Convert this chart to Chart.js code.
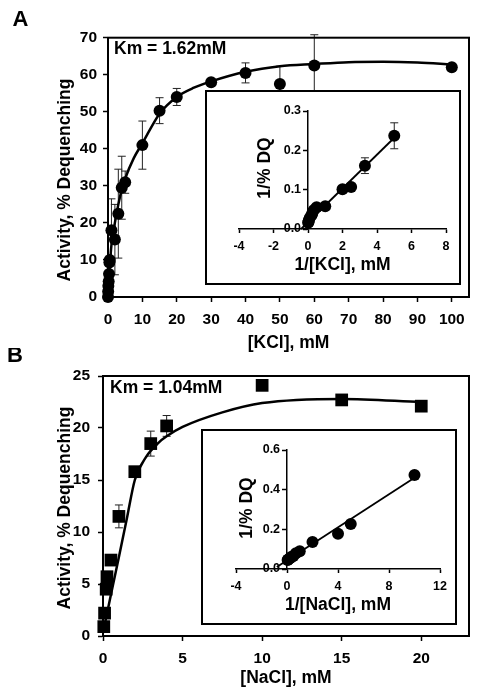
<!DOCTYPE html>
<html>
<head>
<meta charset="utf-8">
<script src="https://cdn.jsdelivr.net/npm/chart.js@4.4.1/dist/chart.umd.min.js"></script>
<style>
  body { margin: 0; background: #fff; }
  #wrap { position: relative; width: 479px; height: 697px; }
  canvas { position: absolute; }
</style>
</head>
<body>
<div id="wrap">
  <canvas id="mainA" width="479" height="360" style="left:0;top:0"></canvas>
  <canvas id="mainB" width="479" height="349" style="left:0;top:348px"></canvas>
  <canvas id="insetA" width="256" height="195" style="left:205px;top:90px"></canvas>
  <canvas id="insetB" width="256" height="196" style="left:201px;top:429px"></canvas>
</div>
<script>
// Panel A - KCl
const kclConc = [0, 0.05, 0.1, 0.2, 0.3, 0.4, 0.5, 1, 2, 3, 4, 5, 10, 15, 20, 30, 40, 50, 60, 100];
const kclActivity = [0, 1.5, 3, 4.2, 6.2, 9.3, 10, 18, 15.5, 22.5, 29.5, 31, 41, 50.3, 54, 58, 60.5, 57.5, 62.5, 62];
const kclError = [0, 0, 0, 0, 0, 0, 0, 8.5, 9.5, 12, 8.5, 3, 6.5, 3.5, 2.3, 0, 2.7, 4.8, 8.3, 0];
const kclFitX = [0, 0.5, 1, 2, 3, 4, 5, 7.5, 10, 15, 20, 25, 30, 40, 50, 60, 70, 80, 90, 100];
const kclFitY = [0, 8, 14, 20, 25, 29, 32, 37.5, 41.5, 49.5, 54, 56.5, 58.2, 60.8, 62.3, 62.9, 63.4, 63.5, 63.3, 62.8];
const kclTicksX = [0, 10, 20, 30, 40, 50, 60, 70, 80, 90, 100];
const kclTicksY = [0, 10, 20, 30, 40, 50, 60, 70];

// inset A - double reciprocal
const kclInvX = [5, 3.3, 2.5, 2, 1, 0.5, 0.33, 0.25, 0.2, 0.1, 0.05, 0.03, 0.01];
const kclInvY = [0.237, 0.161, 0.107, 0.101, 0.058, 0.055, 0.048, 0.04, 0.035, 0.028, 0.022, 0.018, 0.016];
const kclInvErr = [0.033, 0.02, 0, 0, 0, 0, 0, 0, 0, 0, 0, 0, 0];
const kclLineX = [-0.4, 5];
const kclLineY = [0, 0.232];
const kclInvTicksX = [-4, -2, 0, 2, 4, 6, 8];
const kclInvTicksY = [0, 0.1, 0.2, 0.3];

// Panel B - NaCl
const naclConc = [0.05, 0.1, 0.2, 0.25, 0.5, 1, 2, 3, 4, 10, 15, 20];
const naclActivity = [0.9, 2.2, 4.5, 5.7, 7.3, 11.5, 15.8, 18.5, 20.2, 24.1, 22.7, 22.1];
const naclError = [0, 0, 0, 0, 0, 1.1, 0, 1.2, 1.0, 0, 0, 0];
const naclFitX = [0, 0.5, 1, 1.5, 2, 2.7, 3.5, 4, 5, 7.5, 10, 15, 20];
const naclFitY = [0.3, 4.0, 7.6, 11.3, 15.0, 17.2, 18.6, 19.2, 20.1, 21.5, 22.4, 22.8, 22.5];
const naclTicksX = [0, 5, 10, 15, 20];
const naclTicksY = [0, 5, 10, 15, 20, 25];

// inset B
const naclInvX = [10, 5, 4, 2, 1, 0.7, 0.5, 0.33, 0.25, 0.1, 0.05];
const naclInvY = [0.474, 0.227, 0.178, 0.136, 0.09, 0.08, 0.065, 0.06, 0.055, 0.048, 0.045];
const naclLineX = [-0.8, 10];
const naclLineY = [0.01, 0.46];
const naclInvTicksX = [-4, 0, 4, 8, 12];
const naclInvTicksY = [0, 0.2, 0.4, 0.6];

const FAMILY = "'Liberation Sans', Arial, sans-serif";
const tickFont = { family: FAMILY, size: 15.5, weight: 'bold' };
const smallTickFont = { family: FAMILY, size: 12.5, weight: 'bold' };
const titleFont = { family: FAMILY, size: 17.5, weight: 'bold' };

const pts = (xs, ys) => xs.map((x, i) => ({ x: x, y: ys[i] }));
const fixTicks = list => scale => { scale.ticks = list.map(v => ({ value: v })); };

// error bars drawn under the markers
const errorBars = {
  id: 'errorBars',
  beforeDatasetsDraw(chart) {
    const ctx = chart.ctx;
    chart.data.datasets.forEach((ds, i) => {
      if (!ds.errors) return;
      const meta = chart.getDatasetMeta(i);
      const yScale = chart.scales[meta.yAxisID];
      ctx.save();
      ctx.strokeStyle = '#222';
      ctx.lineWidth = 1;
      ds.data.forEach((p, j) => {
        const e = ds.errors[j];
        if (!e) return;
        const x = meta.data[j].x;
        const top = yScale.getPixelForValue(p.y + e);
        const bot = yScale.getPixelForValue(p.y - e);
        ctx.beginPath();
        ctx.moveTo(x, top); ctx.lineTo(x, bot);
        ctx.moveTo(x - 4, top); ctx.lineTo(x + 4, top);
        ctx.moveTo(x - 4, bot); ctx.lineTo(x + 4, bot);
        ctx.stroke();
      });
      ctx.restore();
    });
  }
};

// box around the plot area
const frame = {
  id: 'frame',
  afterDraw(chart) {
    const { ctx, chartArea: a } = chart;
    ctx.save();
    ctx.strokeStyle = '#000';
    ctx.lineWidth = 2;
    ctx.strokeRect(a.left, a.top, a.right - a.left, a.bottom - a.top);
    ctx.restore();
  }
};

// white inset panel with border
const insetBox = {
  id: 'insetBox',
  beforeDraw(chart) {
    const ctx = chart.ctx;
    ctx.save();
    ctx.fillStyle = '#fff';
    ctx.fillRect(0, 0, chart.width, chart.height);
    ctx.restore();
  },
  afterDraw(chart) {
    const ctx = chart.ctx;
    ctx.save();
    ctx.strokeStyle = '#000';
    ctx.lineWidth = 2;
    ctx.strokeRect(1, 1, chart.width - 2, chart.height - 2);
    ctx.restore();
  }
};

// free labels (panel letters, Km, rotated axis titles)
const texts = {
  id: 'texts',
  afterDraw(chart, args, opts) {
    const ctx = chart.ctx;
    (opts.items || []).forEach(t => {
      ctx.save();
      ctx.fillStyle = '#000';
      ctx.font = 'bold ' + t.size + 'px ' + FAMILY;
      ctx.textAlign = t.align || 'center';
      ctx.textBaseline = 'middle';
      ctx.translate(t.x, t.y);
      if (t.rot) ctx.rotate(t.rot);
      ctx.fillText(t.text, 0, 0);
      ctx.restore();
    });
  }
};

function axis(opts) {
  return Object.assign({
    type: 'linear',
    grid: { drawOnChartArea: false, color: '#000', tickColor: '#000', tickLength: 5, tickWidth: 1.5 },
    border: { color: '#000', width: 2 },
  }, opts);
}

// main panel A
new Chart(document.getElementById('mainA'), {
  type: 'scatter',
  data: {
    datasets: [
      {
        data: pts(kclFitX, kclFitY), showLine: true, pointRadius: 0,
        borderColor: '#000', borderWidth: 2.5, cubicInterpolationMode: 'monotone', clip: false,
      },
      {
        data: pts(kclConc, kclActivity), errors: kclError, pointRadius: 6,
        pointBackgroundColor: '#000', pointBorderWidth: 0, clip: false,
      },
    ],
  },
  options: {
    responsive: false,
    animation: false,
    layout: { padding: { left: 0, right: 10, top: 37.7, bottom: 0 } },
    plugins: {
      legend: { display: false },
      tooltip: { enabled: false },
      texts: {
        items: [
          { text: 'A', x: 20.5, y: 19.5, size: 22 },
          { text: 'Km = 1.62mM', x: 114, y: 49.5, size: 17.5, align: 'left' },
          { text: 'Activity, % Dequenching', x: 65, y: 180, size: 17.5, rot: -Math.PI / 2 },
        ],
      },
    },
    scales: {
      x: axis({
        min: 0, max: 105,
        afterBuildTicks: fixTicks(kclTicksX),
        ticks: { font: tickFont, color: '#000', padding: 8 },
        title: { display: true, text: '[KCl], mM', font: titleFont, color: '#000', padding: { top: 0, bottom: 6.5 } },
        afterFit: s => { s.height = 63; },
      }),
      y: axis({
        min: 0, max: 70,
        afterBuildTicks: fixTicks(kclTicksY),
        ticks: { font: tickFont, color: '#000', padding: 6 },
        afterFit: s => { s.width = 108; },
      }),
    },
  },
  plugins: [errorBars, frame, texts],
});

// main panel B
new Chart(document.getElementById('mainB'), {
  type: 'scatter',
  data: {
    datasets: [
      {
        data: pts(naclFitX, naclFitY), showLine: true, pointRadius: 0,
        borderColor: '#000', borderWidth: 2.5, cubicInterpolationMode: 'monotone', clip: false,
      },
      {
        data: pts(naclConc, naclActivity), errors: naclError, pointStyle: 'rect', pointRadius: 9,
        pointBackgroundColor: '#000', pointBorderWidth: 0, clip: false,
      },
    ],
  },
  options: {
    responsive: false,
    animation: false,
    layout: { padding: { left: 0, right: 10, top: 28, bottom: 0 } },
    plugins: {
      legend: { display: false },
      tooltip: { enabled: false },
      texts: {
        items: [
          { text: 'B', x: 15, y: 8, size: 22 },
          { text: 'Km = 1.04mM', x: 110, y: 40, size: 17.5, align: 'left' },
          { text: 'Activity, % Dequenching', x: 65, y: 160, size: 17.5, rot: -Math.PI / 2 },
        ],
      },
    },
    scales: {
      x: axis({
        min: 0, max: 23,
        afterBuildTicks: fixTicks(naclTicksX),
        ticks: { font: tickFont, color: '#000', padding: 8 },
        title: { display: true, text: '[NaCl], mM', font: titleFont, color: '#000', padding: { top: 0, bottom: 8.5 } },
        afterFit: s => { s.height = 61; },
      }),
      y: axis({
        min: 0, max: 25,
        afterBuildTicks: fixTicks(naclTicksY),
        ticks: { font: tickFont, color: '#000', padding: 8 },
        afterFit: s => { s.width = 103; },
      }),
    },
  },
  plugins: [errorBars, frame, texts],
});

function insetChart(id, dots, errs, line, xr, yr, xTicks, yTicks, xTitle, pad, yTitlePos) {
  return new Chart(document.getElementById(id), {
    type: 'scatter',
    data: {
      datasets: [
        {
          data: line, showLine: true, pointRadius: 0,
          borderColor: '#000', borderWidth: 1.8, clip: false,
        },
        {
          data: dots, errors: errs, pointRadius: 6,
          pointBackgroundColor: '#000', pointBorderWidth: 0, clip: false,
        },
      ],
    },
    options: {
      responsive: false,
      animation: false,
      layout: { padding: pad },
      plugins: {
        legend: { display: false },
        tooltip: { enabled: false },
        texts: { items: [{ text: '1/% DQ', x: yTitlePos[0], y: yTitlePos[1], size: 17.5, rot: -Math.PI / 2 }] },
      },
      scales: {
        x: axis({
          min: xr[0], max: xr[1],
          afterBuildTicks: fixTicks(xTicks),
          grid: { drawOnChartArea: false, color: '#000', tickColor: '#000', tickLength: 4, tickWidth: 1.5 },
          border: { color: '#000', width: 1.5 },
          ticks: { font: smallTickFont, color: '#000', padding: 6 },
          title: { display: true, text: xTitle, font: titleFont, color: '#000', padding: { top: 0, bottom: 9.5 } },
          afterFit: s => { s.height = 56; },
        }),
        y: axis({
          position: { x: 0 },
          min: yr[0], max: yr[1],
          afterBuildTicks: fixTicks(yTicks),
          grid: { drawOnChartArea: false, color: '#000', tickColor: '#000', tickLength: 4, tickWidth: 1.5 },
          border: { color: '#000', width: 1.5 },
          // axis sits at x = 0, labels need a gap from the line
          ticks: { font: smallTickFont, color: '#000', padding: 4, callback: v => v.toFixed(1) + '  ' },
        }),
      },
    },
    plugins: [insetBox, errorBars, texts],
  });
}

insetChart('insetA', pts(kclInvX, kclInvY), kclInvErr, pts(kclLineX, kclLineY),
  [-4, 8], [0, 0.3], kclInvTicksX, kclInvTicksY, '1/[KCl], mM',
  { left: 34, right: 15, top: 21, bottom: 0 }, [60, 78]);

insetChart('insetB', pts(naclInvX, naclInvY), null, pts(naclLineX, naclLineY),
  [-4, 12], [0, 0.6], naclInvTicksX, naclInvTicksY, '1/[NaCl], mM',
  { left: 35, right: 17, top: 21, bottom: 0 }, [46, 79]);
</script>
</body>
</html>
